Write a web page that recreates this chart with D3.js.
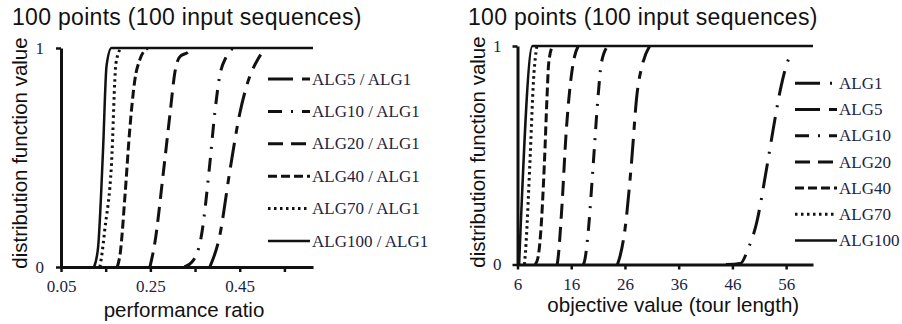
<!DOCTYPE html>
<html>
<head>
<meta charset="utf-8">
<script src="https://cdn.jsdelivr.net/npm/d3@7"></script>
<style>
body { margin: 0; background: #fff; }
.serif { font-family: "Liberation Serif", "Times New Roman", serif; }
.sans { font-family: "Liberation Sans", Arial, sans-serif; }
</style>
</head>
<body>
<svg width="902" height="324"></svg>
<script>
var canvas = d3.select("svg");

var titleText = "100 points (100 input sequences)";
var yLabel = "distribution function value";
var yTicks = [0, 1];

// left panel: ratio to ALG1
var ratioLabel = "performance ratio";
var ratioTicks = [0.05, 0.15, 0.25, 0.35, 0.45, 0.55];
var ratioTickLabels = ["0.05", "", "0.25", "", "0.45", ""];
var ratioNames = ["ALG5 / ALG1", "ALG10 / ALG1", "ALG20 / ALG1", "ALG40 / ALG1", "ALG70 / ALG1", "ALG100 / ALG1"];
var ratioALG5 = [[0.383, 0], [0.405, 0.14], [0.428, 0.44], [0.45, 0.70], [0.469, 0.85], [0.491, 0.95], [0.497, 0.97]];
var ratioALG10 = [[0.326, 0], [0.346, 0.03], [0.364, 0.14], [0.383, 0.47], [0.394, 0.70], [0.405, 0.87], [0.42, 0.96], [0.435, 1]];
var ratioALG20 = [[0.249, 0], [0.26, 0.11], [0.279, 0.43], [0.294, 0.70], [0.305, 0.89], [0.316, 0.96], [0.334, 0.98], [0.345, 1]];
var ratioALG40 = [[0.176, 0], [0.183, 0.07], [0.193, 0.32], [0.204, 0.63], [0.215, 0.85], [0.227, 0.95], [0.244, 1]];
var ratioALG70 = [[0.137, 0], [0.141, 0.05], [0.148, 0.17], [0.163, 0.47], [0.173, 0.93], [0.184, 1]];
var ratioALG100 = [[0.124, 0], [0.133, 0.09], [0.144, 0.53], [0.152, 0.92], [0.163, 1], [0.614, 1]];
var ratioSeries = [ratioALG5, ratioALG10, ratioALG20, ratioALG40, ratioALG70, ratioALG100];

// right panel: tour length
var tourLabel = "objective value (tour length)";
var tourTicks = [6, 16, 26, 36, 46, 56];
var tourNames = ["ALG1", "ALG5", "ALG10", "ALG20", "ALG40", "ALG70", "ALG100"];
var tourALG1 = [[44.8, 0], [47.5, 0.005], [48.9, 0.07], [50.5, 0.19], [52.3, 0.43], [53.6, 0.62], [55.1, 0.82], [56.3, 0.93], [57.3, 0.97]];
var tourALG5 = [[24.6, 0], [25.0, 0.03], [26.0, 0.16], [27.2, 0.46], [28.2, 0.77], [29.3, 0.92], [30.6, 1]];
var tourALG10 = [[18.3, 0], [18.6, 0.03], [19.2, 0.16], [20.1, 0.46], [21.0, 0.77], [21.6, 0.92], [22.8, 1]];
var tourALG20 = [[13.4, 0], [13.6, 0.04], [14.2, 0.24], [15.1, 0.62], [16.0, 0.86], [16.6, 0.95], [17.3, 1]];
var tourALG40 = [[9.3, 0], [9.8, 0.03], [10.3, 0.14], [11.0, 0.46], [11.5, 0.77], [11.8, 0.92], [12.5, 1]];
var tourALG70 = [[7.3, 0], [7.6, 0.1], [8.3, 0.46], [9.0, 0.85], [9.6, 1]];
var tourALG100 = [[6.3, 0], [8.8, 1], [61, 1]];
var tourSeries = [tourALG1, tourALG5, tourALG10, tourALG20, tourALG40, tourALG70, tourALG100];

// line styles per algorithm
var dashes = {
    "ALG1": "25,10,2,10",
    "ALG5": "25,9,8,9",
    "ALG10": "14,9,2,9",
    "ALG20": "15,8",
    "ALG40": "9,4",
    "ALG70": "2.5,3.5",
    "ALG100": null
};
var colorInk = "#111";
var colorLabel = "#1c2440";

function drawPanel(p) {
    var xScale = d3.scaleLinear().domain(p.domain).range(p.xRange);
    var yScale = d3.scaleLinear().domain([0, 1]).range(p.yRange);
    var g = canvas.append("g");

    var line = d3.line()
        .x(d => xScale(d[0]))
        .y(d => yScale(d[1]))
        .curve(d3.curveMonotoneX);

    g.selectAll("path.curve")
        .data(p.series)
        .enter()
        .append("path")
        .attr("class", "curve")
        .attr("d", line)
        .attr("fill", "none")
        .attr("stroke", colorInk)
        .attr("stroke-width", (d, i) => dashes[p.names[i].split(" ")[0]] ? 3 : 2.5)
        .attr("stroke-dasharray", (d, i) => dashes[p.names[i].split(" ")[0]]);

    var xAxis = d3.axisBottom(xScale)
        .tickValues(p.ticks)
        .tickFormat((d, i) => p.tickLabels[i])
        .tickSize(5).tickSizeOuter(0).tickPadding(8);
    var gx = g.append("g")
        .attr("transform", `translate(0,${p.yRange[0]})`)
        .call(xAxis);

    var yAxis = d3.axisLeft(yScale)
        .tickValues(yTicks)
        .tickFormat(d3.format("d"))
        .tickSize(5).tickSizeOuter(0).tickPadding(p.yPad);
    var gy = g.append("g")
        .attr("transform", `translate(${p.xRange[0]},0)`)
        .call(yAxis);

    [gx, gy].forEach(a => {
        a.select(".domain").attr("stroke", colorInk).attr("stroke-width", 3);
        a.selectAll(".tick line").attr("stroke", colorInk).attr("stroke-width", 2.5);
        a.selectAll(".tick text")
            .attr("class", "serif")
            .attr("font-size", 17)
            .attr("fill", colorLabel);
    });

    // legend
    var legend = g.selectAll("g.legend")
        .data(p.names)
        .enter()
        .append("g")
        .attr("transform", (d, i) => `translate(0,${p.legendY + i * p.legendStep})`);
    legend.append("line")
        .attr("x1", p.legendX).attr("x2", p.legendX + 42)
        .attr("stroke", colorInk)
        .attr("stroke-width", d => dashes[d.split(" ")[0]] ? 3 : 2.5)
        .attr("stroke-dasharray", d => dashes[d.split(" ")[0]]);
    legend.append("text")
        .attr("class", "serif")
        .attr("x", p.legendX + 44)
        .attr("dy", "0.33em")
        .attr("font-size", 17)
        .attr("fill", colorLabel)
        .text(d => d);

    // titles
    g.append("text")
        .attr("class", "sans")
        .attr("x", p.titleX).attr("y", 25)
        .attr("font-size", 23)
        .attr("letter-spacing", 0.3)
        .attr("fill", colorInk)
        .text(titleText);
    g.append("text")
        .attr("class", "sans")
        .attr("transform", `translate(${p.yLabelX},${p.yLabelY}) rotate(-90)`)
        .attr("text-anchor", "middle")
        .attr("font-size", 20.5)
        .attr("fill", colorInk)
        .text(yLabel);
    g.append("text")
        .attr("class", "sans")
        .attr("x", (p.xRange[0] + p.xRange[1]) / 2 + p.xLabelShift)
        .attr("y", p.xLabelY)
        .attr("text-anchor", "middle")
        .attr("font-size", 20.5)
        .attr("fill", colorInk)
        .text(p.label);
}

drawPanel({
    domain: [0.05, 0.614], xRange: [61, 313], yRange: [267, 48],
    series: ratioSeries, names: ratioNames,
    ticks: ratioTicks, tickLabels: ratioTickLabels, yPad: 12,
    legendX: 268, legendY: 79, legendStep: 32.4,
    titleX: 12, yLabelX: 27, yLabelY: 153, xLabelY: 316.5, xLabelShift: -3,
    label: ratioLabel
});

drawPanel({
    domain: [6, 61], xRange: [517.5, 813], yRange: [264.5, 46],
    series: tourSeries, names: tourNames,
    ticks: tourTicks, tickLabels: tourTicks.map(String), yPad: 11,
    legendX: 795, legendY: 83.3, legendStep: 26.2,
    titleX: 468, yLabelX: 484.5, yLabelY: 152, xLabelY: 312, xLabelShift: 8,
    label: tourLabel
});
</script>
</body>
</html>
